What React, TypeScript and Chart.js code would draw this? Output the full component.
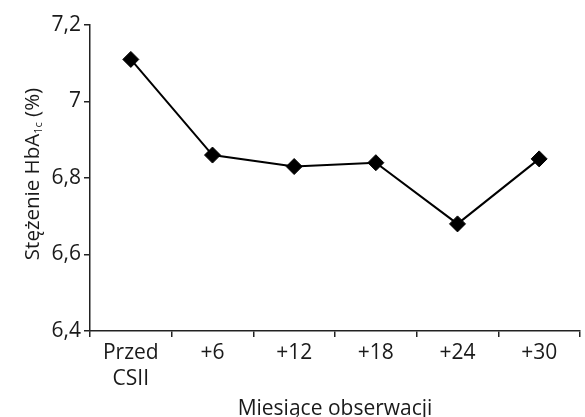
import React, { useEffect, useRef } from "react";
import { Chart, registerables } from "chart.js";

Chart.register(...registerables);

const categories: (string | string[])[] = [["Przed", "CSII"], "+6", "+12", "+18", "+24", "+30"];
const hba1cValues = [7.11, 6.86, 6.83, 6.84, 6.68, 6.85];
const yTickValues = [6.4, 6.6, 6.8, 7, 7.2];
const xTitle = "Miesiące obserwacji";
const yTitleMain = "Stężenie HbA";
const yTitleSub = "1c";
const yTitleEnd = " (%)";

const FONT = "'Open Sans', 'Noto Sans', sans-serif";
const TEXT = "#1a1a1a";

const yTitlePlugin = {
  id: "yTitleSub",
  afterDraw(chart: any) {
    const ctx = chart.ctx as CanvasRenderingContext2D;
    const cy = 174;
    const cx = 33;
    ctx.save();
    ctx.translate(cx, cy);
    ctx.rotate(-Math.PI / 2);
    ctx.fillStyle = TEXT;
    ctx.textBaseline = "middle";
    const big = `20.5px ${FONT}`;
    const small = `11px ${FONT}`;
    ctx.font = big;
    const w1 = ctx.measureText(yTitleMain).width;
    const w3 = ctx.measureText(yTitleEnd).width;
    ctx.font = small;
    const w2 = ctx.measureText(yTitleSub).width;
    const total = w1 + w2 + w3;
    let x = -total / 2;
    ctx.textAlign = "left";
    ctx.font = big;
    ctx.fillText(yTitleMain, x, 0);
    x += w1;
    ctx.font = small;
    ctx.fillText(yTitleSub, x, 6);
    x += w2;
    ctx.font = big;
    ctx.fillText(yTitleEnd, x, 0);
    ctx.restore();
  },
};

export default function App() {
  const ref = useRef<HTMLCanvasElement | null>(null);
  useEffect(() => {
    if (!ref.current) return;
    const chart = new Chart(ref.current, {
      type: "line",
      data: {
        labels: categories,
        datasets: [
          {
            data: hba1cValues,
            borderColor: "#000",
            backgroundColor: "#000",
            borderWidth: 2,
            pointStyle: "rectRot",
            pointRadius: 8,
            pointBorderWidth: 1,
            pointBackgroundColor: "#000",
            pointBorderColor: "#000",
            tension: 0,
          },
        ],
      },
      options: {
        responsive: false,
        animation: false,
        devicePixelRatio: 1,
        layout: { padding: { top: 25, right: 1, left: 0, bottom: 0 } },
        plugins: { legend: { display: false }, tooltip: { enabled: false }, title: { display: false } },
        scales: {
          x: {
            type: "category",
            offset: true,
            grid: {
              offset: true,
              drawOnChartArea: false,
              drawTicks: true,
              tickLength: 6,
              color: "#222",
              lineWidth: 1.5,
            },
            border: { display: true, color: "#222", width: 1.5 },
            ticks: {
              color: TEXT,
              font: { family: FONT, size: 21, lineHeight: 1.25 },
              padding: 3,
              maxRotation: 0,
              autoSkip: false,
            },
            title: {
              display: true,
              text: xTitle,
              color: TEXT,
              font: { family: FONT, size: 21, lineHeight: 1 },
              padding: { top: 0, bottom: -3 },
            },
            afterFit: (scale: any) => {
              scale.height = 86;
            },
          },
          y: {
            min: 6.4,
            max: 7.2,
            afterBuildTicks: (scale: any) => {
              scale.ticks = yTickValues.map((v) => ({ value: v }));
            },
            grid: {
              drawOnChartArea: false,
              drawTicks: true,
              tickLength: 6,
              color: "#222",
              lineWidth: 1.5,
            },
            border: { display: true, color: "#222", width: 1.5 },
            ticks: {
              color: TEXT,
              font: { family: FONT, size: 21 },
              padding: 3,
              callback: (v: any) => String(v).replace(".", ","),
            },
            afterFit: (scale: any) => {
              scale.width = 90;
            },
          },
        },
      },
      plugins: [yTitlePlugin],
    });
    return () => chart.destroy();
  }, []);
  return (
    <div style={{ position: "absolute", left: 0, top: 0, width: 585, height: 417, overflow: "hidden", background: "#fff" }}>
      <canvas ref={ref} width={589} height={417} style={{ display: "block" }} />
    </div>
  );
}
